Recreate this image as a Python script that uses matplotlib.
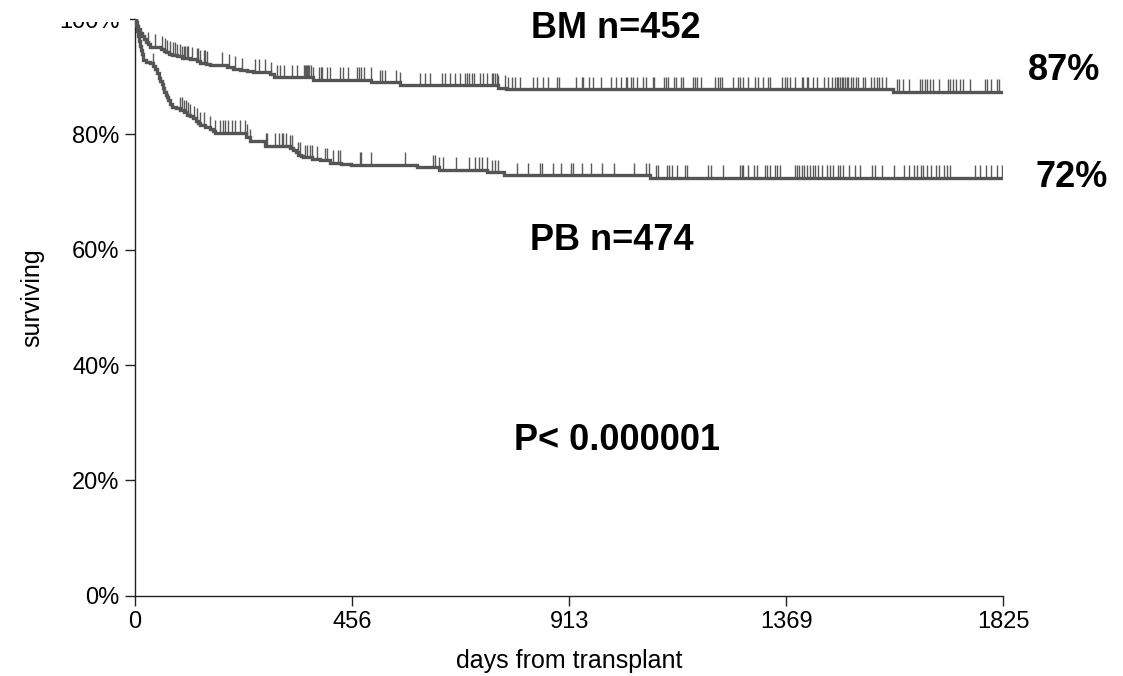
import numpy as np
import matplotlib
matplotlib.use("Agg")
import matplotlib.pyplot as plt
from matplotlib.patches import Rectangle
from matplotlib.ticker import FuncFormatter

plt.rcParams["font.family"] = ["Liberation Sans", "DejaVu Sans"]

# Kaplan-Meier estimates: event days and survival (%) just after each event
bm_days = [0, 2, 4, 7, 10, 14, 18, 23, 27, 31, 55, 60, 66, 72, 77, 88, 98, 115,
           130, 137, 150, 158, 193, 205, 221, 235, 248, 284, 292, 374, 497, 557,
           578, 763, 780, 1594]
bm_surv = [100.0, 99.4, 98.8, 98.2, 97.6, 97.0, 96.5, 96.0, 95.6, 95.2, 94.8,
           94.5, 94.2, 94.0, 93.75, 93.5, 93.2, 93.0, 92.8, 92.4, 92.2, 92.0,
           91.7, 91.4, 91.1, 90.95, 90.8, 90.4, 89.9, 89.4, 89.0, 88.6, 88.5,
           88.1, 87.8, 87.4]

pb_days = [0, 2, 4, 6, 8, 10, 12, 14, 17, 24, 31, 37, 42, 46, 50, 53, 56, 59,
           62, 65, 67, 70, 74, 77, 86, 95, 102, 109, 116, 122, 128, 133, 137,
           147, 158, 163, 168, 233, 242, 273, 326, 333, 338, 343, 349, 354, 372,
           389, 410, 432, 455, 592, 640, 740, 776, 1082]
pb_surv = [100.0, 99.0, 98.0, 97.0, 96.2, 95.4, 94.6, 93.9, 92.9, 92.6, 92.3,
           91.9, 91.4, 90.6, 89.8, 89.2, 88.8, 88.0, 87.3, 86.8, 86.5, 85.9,
           85.3, 84.8, 84.5, 84.2, 83.8, 83.4, 83.1, 82.8, 82.3, 81.9, 81.6,
           81.3, 81.0, 80.6, 80.3, 79.6, 78.8, 78.0, 77.6, 77.3, 76.9, 76.5,
           76.2, 76.0, 75.7, 75.5, 75.1, 74.9, 74.7, 74.3, 73.8, 73.4, 72.9,
           72.4]

# Censored observations (days)
bm_censored = [28, 42, 56, 63, 67, 74, 80, 84, 89, 95, 98, 102, 105, 109, 112,
               119, 130, 133, 137, 144, 147, 151, 182, 198, 210, 224, 252, 261,
               273, 286, 299, 305, 314, 329, 341, 355, 357, 359, 362, 364, 366,
               369, 375, 387, 391, 394, 403, 410, 431, 437, 447, 467, 471, 476,
               481, 495, 515, 520, 525, 548, 558, 599, 609, 620, 645, 652, 662,
               673, 683, 694, 698, 703, 708, 712, 725, 732, 739, 750, 753, 757,
               760, 764, 778, 785, 792, 799, 809, 837, 844, 858, 869, 888, 892,
               927, 939, 942, 955, 963, 979, 1000, 1011, 1021, 1031, 1035, 1042,
               1046, 1056, 1068, 1074, 1088, 1091, 1112, 1116, 1121, 1133, 1137,
               1148, 1152, 1172, 1177, 1182, 1189, 1219, 1226, 1230, 1233, 1257,
               1268, 1272, 1278, 1289, 1303, 1310, 1320, 1331, 1335, 1359, 1366,
               1370, 1377, 1387, 1401, 1405, 1412, 1415, 1426, 1433, 1448, 1457,
               1464, 1471, 1475, 1478, 1482, 1485, 1489, 1492, 1496, 1499, 1504,
               1510, 1515, 1520, 1531, 1534, 1546, 1553, 1559, 1564, 1569, 1578,
               1601, 1606, 1615, 1627, 1650, 1655, 1660, 1665, 1671, 1677, 1690,
               1709, 1714, 1720, 1726, 1734, 1740, 1755, 1786, 1791, 1800, 1811,
               1817]
pb_censored = [38, 95, 98, 102, 107, 112, 116, 123, 130, 137, 144, 158, 168,
               179, 184, 189, 196, 203, 210, 221, 231, 235, 242, 275, 278, 294,
               303, 308, 312, 317, 326, 331, 343, 347, 357, 361, 368, 371, 382,
               399, 404, 416, 427, 431, 473, 476, 495, 567, 627, 631, 640, 648,
               675, 701, 715, 722, 729, 739, 750, 757, 764, 802, 827, 851, 855,
               879, 895, 916, 920, 939, 958, 981, 1007, 1049, 1075, 1081, 1096,
               1100, 1119, 1123, 1128, 1140, 1156, 1160, 1205, 1210, 1235, 1272,
               1275, 1278, 1289, 1300, 1308, 1324, 1328, 1335, 1345, 1349, 1356,
               1387, 1391, 1396, 1401, 1406, 1413, 1419, 1426, 1429, 1436, 1443,
               1454, 1461, 1468, 1478, 1482, 1489, 1501, 1513, 1524, 1550, 1555,
               1569, 1595, 1616, 1627, 1637, 1644, 1651, 1657, 1665, 1672, 1683,
               1690, 1700, 1707, 1714, 1765, 1777, 1789, 1800, 1811, 1822]

x_ticks = [0, 456, 913, 1369, 1825]
y_ticks = [0, 20, 40, 60, 80, 100]
follow_up = 1825

W, H = 1123, 676
fig = plt.figure(figsize=(W / 100, H / 100), dpi=100)
ax = fig.add_axes([135 / W, 1 - 595.7 / H, 868.3 / W, 576.7 / H])

line_color = "#555555"
tick_color = "#5a5a5a"


def draw_curve(days, surv, censored):
    days = np.asarray(days, dtype=float)
    surv = np.asarray(surv, dtype=float)
    xs = np.append(days, follow_up)
    ys = np.append(surv, surv[-1])
    c = np.asarray(censored, dtype=float)
    idx = np.searchsorted(days, c, side="right") - 1
    s_at = surv[idx]
    ax.vlines(c, s_at, s_at + 2.2, colors=tick_color, linewidth=1.0, zorder=2)
    ax.plot(xs, ys, drawstyle="steps-post", color=line_color, linewidth=2.4,
            solid_joinstyle="miter", zorder=3)


draw_curve(bm_days, bm_surv, bm_censored)
draw_curve(pb_days, pb_surv, pb_censored)

ax.set_xlim(0, follow_up)
ax.set_ylim(0, 100)
ax.set_xticks(x_ticks)
ax.set_yticks(y_ticks)
ax.yaxis.set_major_formatter(FuncFormatter(lambda v, p: f"{v:.0f}%"))
for side in ("top", "right"):
    ax.spines[side].set_visible(False)
for side in ("left", "bottom"):
    ax.spines[side].set_linewidth(1.0)
    ax.spines[side].set_color("#222222")
ax.tick_params(axis="both", direction="out", length=7, width=1.0,
               color="#222222", labelsize=17, pad=4)
ax.patch.set_alpha(0)

ax.set_xlabel("days from transplant", fontsize=18)
ax.set_ylabel("surviving", fontsize=18)
ax.xaxis.set_label_coords(0.5, -0.092)
ax.yaxis.set_label_coords(-0.105, 0.516)

# white band over the top-left margin
fig.add_artist(Rectangle((0, 1 - 21.5 / H), 130 / W, 21.5 / H,
                         transform=fig.transFigure, facecolor="white",
                         edgecolor="none", zorder=10))

bold = dict(fontsize=26, fontweight="bold", ha="center", va="baseline",
            color="black", zorder=11)
fig.text(616 / W, 1 - 38 / H, f"BM n={452}", **bold)
fig.text(612 / W, 1 - 250 / H, f"PB n={474}", **bold)
fig.text(617 / W, 1 - 450 / H, "P< 0.000001", **bold)
fig.text(1064 / W, 1 - 80 / H, f"{round(bm_surv[-1])}%", **bold)
fig.text(1072 / W, 1 - 187 / H, f"{round(pb_surv[-1])}%", **bold)

fig.savefig("out.png", dpi=100, facecolor="white")
